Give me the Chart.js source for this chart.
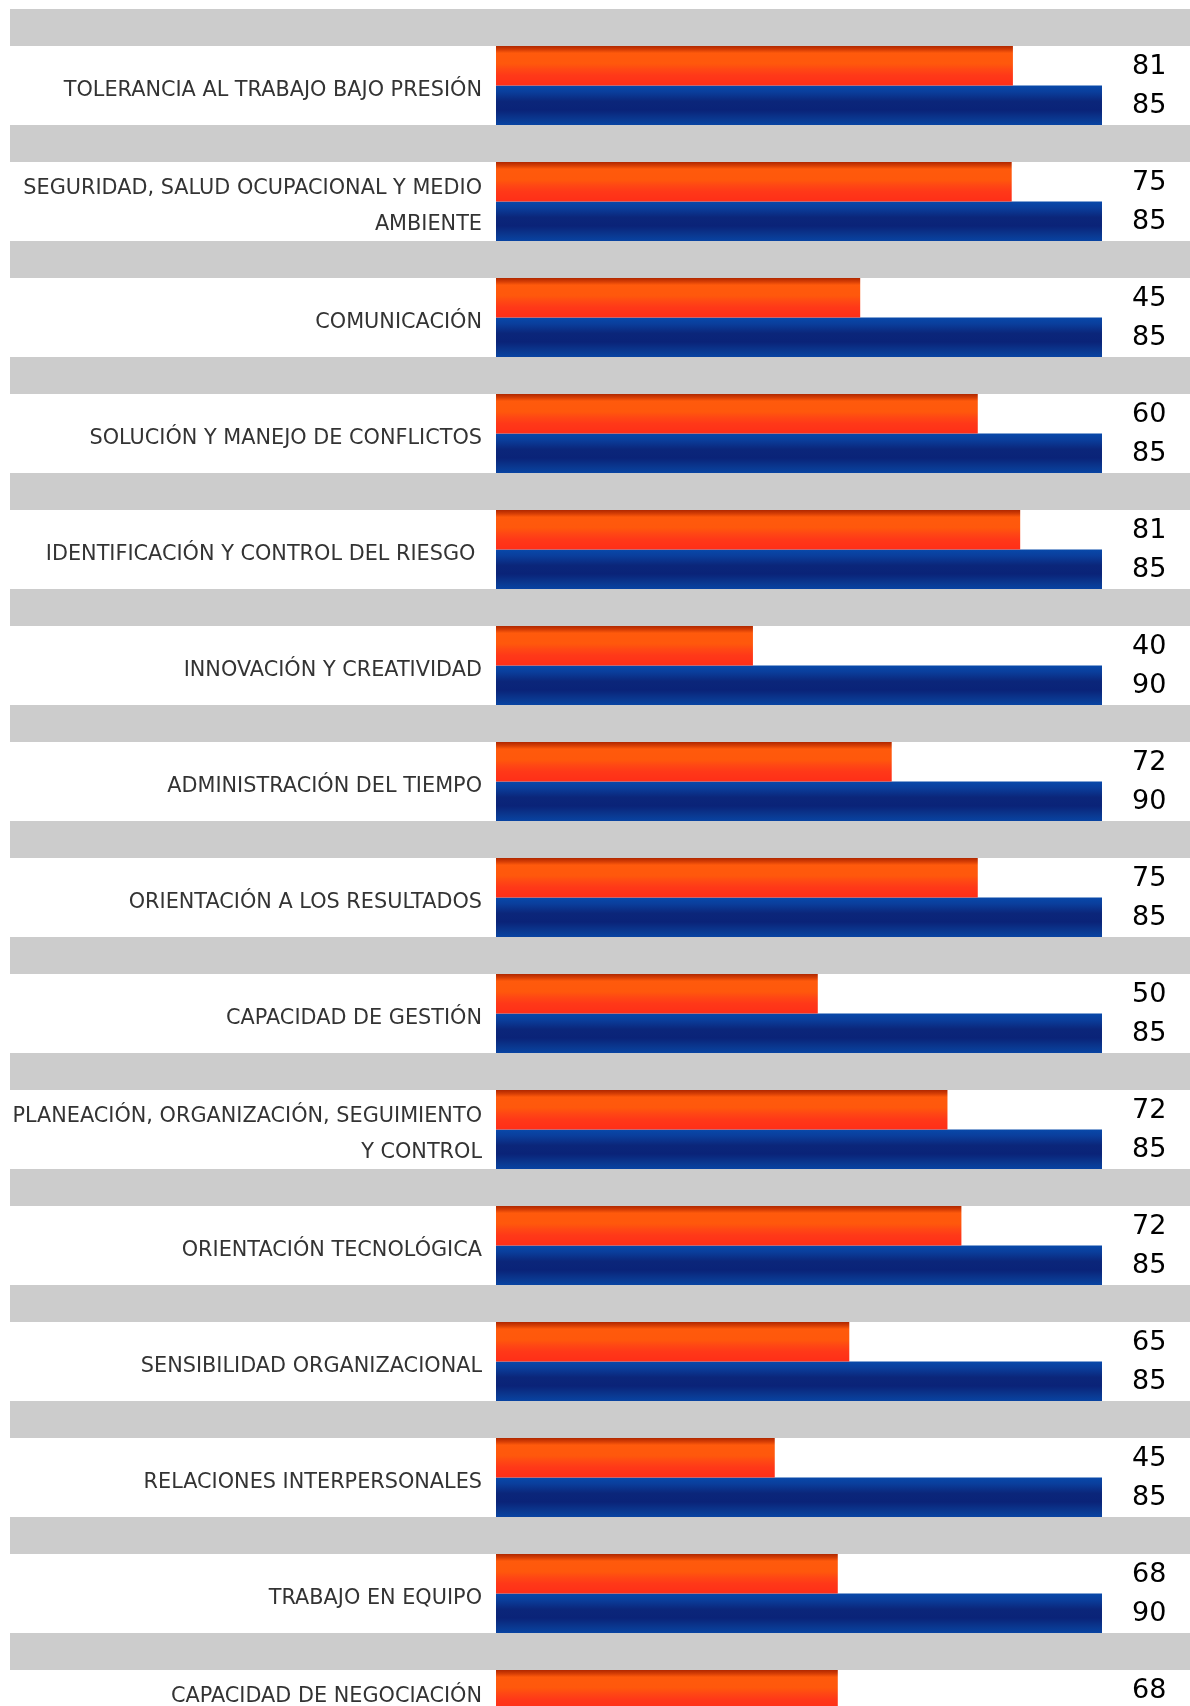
<!DOCTYPE html>
<html>
<head>
<meta charset="utf-8">
<script src="https://cdn.jsdelivr.net/npm/chart.js@4.4.1/dist/chart.umd.min.js"></script>
<style>
  html, body { margin: 0; padding: 0; background: #ffffff; overflow: hidden; width: 1190px; height: 1706px; }
  canvas { display: block; }
</style>
</head>
<body>
<canvas id="c" width="1190" height="1790"></canvas>
<script>
// ---- data ----
const categories = [
  ['TOLERANCIA AL TRABAJO BAJO PRESIÓN'],
  ['SEGURIDAD, SALUD OCUPACIONAL Y MEDIO', 'AMBIENTE'],
  ['COMUNICACIÓN'],
  ['SOLUCIÓN Y MANEJO DE CONFLICTOS'],
  ['IDENTIFICACIÓN Y CONTROL DEL RIESGO '],
  ['INNOVACIÓN Y CREATIVIDAD'],
  ['ADMINISTRACIÓN DEL TIEMPO'],
  ['ORIENTACIÓN A LOS RESULTADOS'],
  ['CAPACIDAD DE GESTIÓN'],
  ['PLANEACIÓN, ORGANIZACIÓN, SEGUIMIENTO', 'Y CONTROL'],
  ['ORIENTACIÓN TECNOLÓGICA'],
  ['SENSIBILIDAD ORGANIZACIONAL'],
  ['RELACIONES INTERPERSONALES'],
  ['TRABAJO EN EQUIPO'],
  ['CAPACIDAD DE NEGOCIACIÓN', '']
];
// numbers printed beside the bars
const scoreLabels  = [81, 75, 45, 60, 81, 40, 72, 75, 50, 72, 72, 65, 45, 68, 68];
const targetLabels = [85, 85, 85, 85, 85, 90, 90, 85, 85, 85, 85, 85, 85, 90, null];
// drawn bar lengths (percent of the full bar width), as measured in the picture
const scoreBarLengths  = [85.3, 85.1, 60.1, 79.5, 86.5, 42.4, 65.3, 79.5, 53.1, 74.5, 76.8, 58.3, 46.0, 56.4, 56.4];
const targetBarLengths = [100, 100, 100, 100, 100, 100, 100, 100, 100, 100, 100, 100, 100, 100, 100];

// ---- styling ----
const CAT_PCT = 79 / 116;
const FONT = "'DejaVu Sans', Verdana, sans-serif";
const orangeStops = [[0, '#b02800'], [0.08, '#d03a04'], [0.18, '#ff5a0c'], [0.45, '#ff580c'], [0.6, '#ff4614'], [0.75, '#ff3818'], [1, '#ff2e18']];
const blueStops   = [[0, '#0849aa'], [0.16, '#0a3e9c'], [0.4, '#0b267a'], [0.62, '#0a2378'], [0.85, '#0a3890'], [1, '#0843a2']];

function barGradient(stops) {
  return function (ctx) {
    const chart = ctx.chart;
    const ys = chart.scales && chart.scales.y;
    if (!ys || ctx.type !== 'data' || !isFinite(ys.top)) return stops[2][1];
    const n = ys.getLabels().length;
    const slot = (ys.bottom - ys.top) / n;
    const group = slot * CAT_PCT;
    const c = ys.getPixelForValue(ctx.dataIndex);
    const top = c - group / 2 + ctx.datasetIndex * group / 2;
    const g = chart.ctx.createLinearGradient(0, top, 0, top + group / 2);
    stops.forEach(([o, col]) => g.addColorStop(o, col));
    return g;
  };
}

const bandsPlugin = {
  id: 'bands',
  beforeDatasetsDraw(chart) {
    const ys = chart.scales.y;
    const ctx = chart.ctx;
    const n = ys.getLabels().length;
    const slot = (ys.bottom - ys.top) / n;
    const h = slot * (1 - CAT_PCT);
    ctx.save();
    ctx.fillStyle = '#cccccc';
    for (let k = 0; k <= n; k++) {
      const y = ys.getPixelForValue(k - 0.5);
      ctx.fillRect(10, y - h / 2, chart.width - 10, h);
    }
    ctx.restore();
  }
};

const valuesPlugin = {
  id: 'values',
  afterDatasetsDraw(chart) {
    const ctx = chart.ctx;
    ctx.save();
    ctx.font = '27px ' + FONT;
    ctx.fillStyle = '#000000';
    ctx.textAlign = 'left';
    ctx.textBaseline = 'middle';
    chart.data.datasets.forEach((ds, di) => {
      const meta = chart.getDatasetMeta(di);
      meta.data.forEach((bar, i) => {
        const v = ds.valueLabels[i];
        if (v == null) return;
        ctx.fillText(String(v), chart.chartArea.right + 30, bar.y + 1);
      });
    });
    ctx.restore();
  }
};

new Chart(document.getElementById('c'), {
  type: 'bar',
  data: {
    labels: categories,
    datasets: [
      {
        label: 'Resultado',
        data: scoreBarLengths,
        valueLabels: scoreLabels,
        backgroundColor: barGradient(orangeStops),
        borderWidth: 0,
        categoryPercentage: CAT_PCT,
        barPercentage: 1
      },
      {
        label: 'Meta',
        data: targetBarLengths,
        valueLabels: targetLabels,
        backgroundColor: barGradient(blueStops),
        borderWidth: 0,
        categoryPercentage: CAT_PCT,
        barPercentage: 1
      }
    ]
  },
  options: {
    indexAxis: 'y',
    responsive: false,
    devicePixelRatio: 1,
    animation: false,
    layout: { padding: { top: 27.5, right: 88, bottom: 22.5, left: 0 } },
    plugins: {
      legend: { display: false },
      tooltip: { enabled: false }
    },
    scales: {
      x: { type: 'linear', min: 0, max: 100, display: false },
      y: {
        type: 'category',
        offset: true,
        grid: { display: false, drawTicks: false },
        border: { display: false },
        ticks: {
          padding: 14,
          labelOffset: 5,
          color: '#333333',
          font: { family: FONT, size: 20.8, lineHeight: 1.73 },
          autoSkip: false
        },
        afterFit(scale) {
          scale.width = 496;
          scale.paddingTop = 0;
          scale.paddingBottom = 0;
        }
      }
    }
  },
  plugins: [bandsPlugin, valuesPlugin]
});
</script>
</body>
</html>
